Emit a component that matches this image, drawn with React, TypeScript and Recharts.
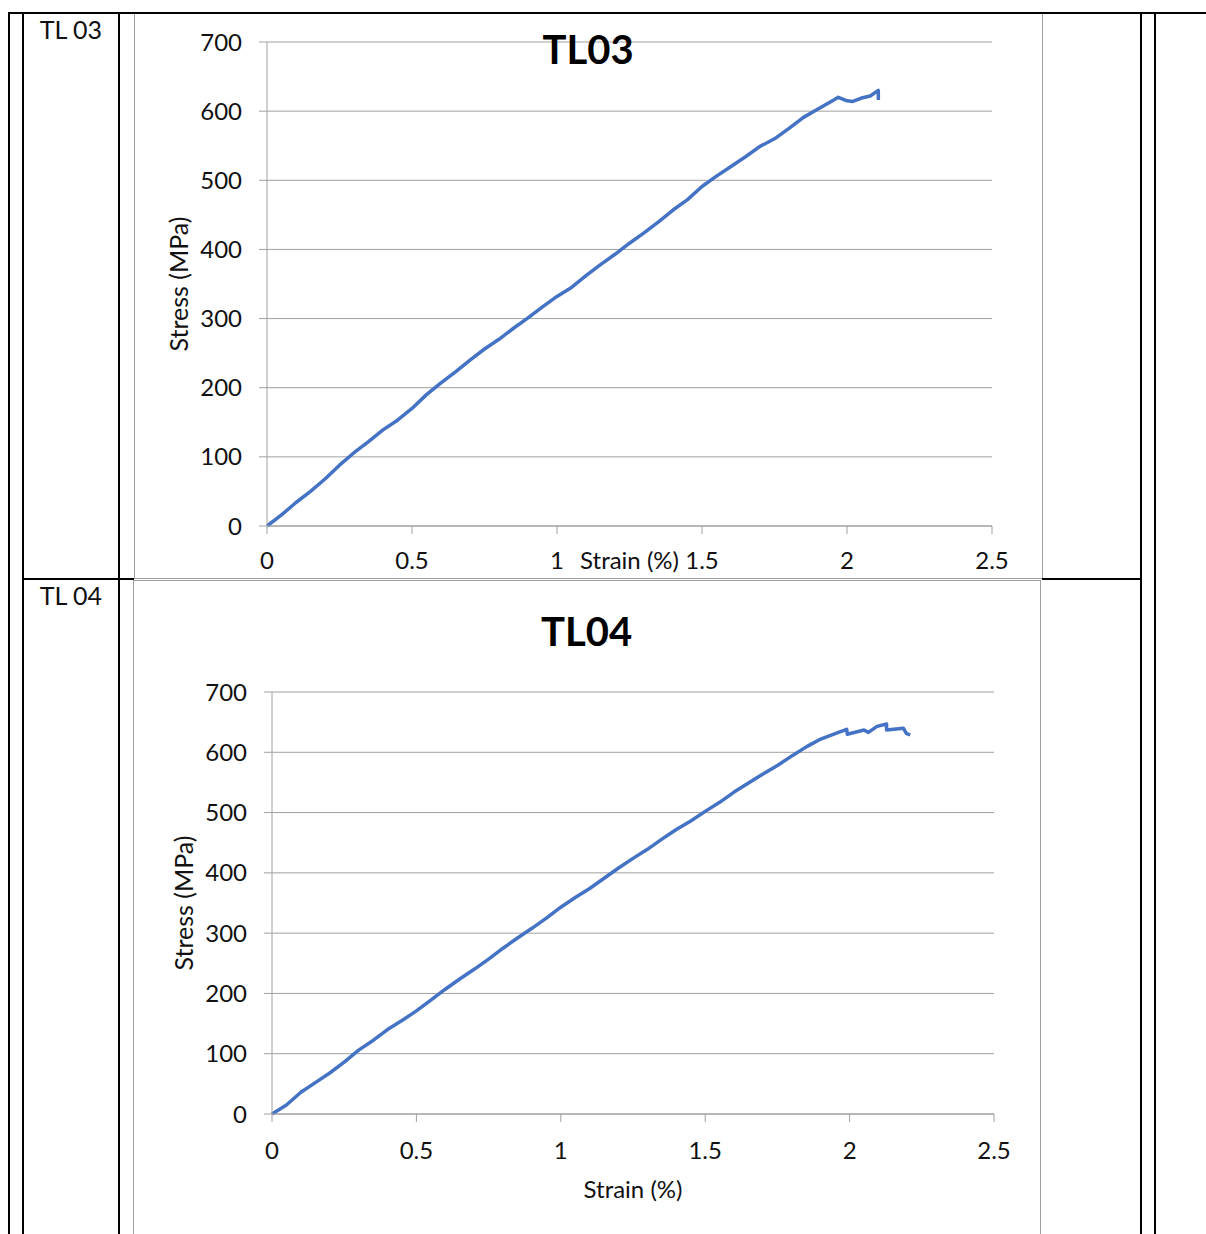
import { LineChart, Line, XAxis, YAxis, CartesianGrid } from "recharts";

const strainTicks = [0, 0.5, 1, 1.5, 2, 2.5];
const stressTicks = [0, 100, 200, 300, 400, 500, 600, 700];

const tl03Strain = [
  0, 0.05, 0.1, 0.15, 0.2, 0.25, 0.3, 0.35, 0.4, 0.45, 0.5, 0.55, 0.6, 0.65, 0.7, 0.75, 0.8, 0.85,
  0.9, 0.95, 1.0, 1.05, 1.1, 1.15, 1.2, 1.25, 1.3, 1.35, 1.4, 1.45, 1.5, 1.55, 1.6, 1.65, 1.7, 1.75,
  1.8, 1.85, 1.9, 1.95, 1.97, 2.0, 2.02, 2.05, 2.08, 2.108, 2.108,
];
const tl03Stress = [
  0, 16, 34, 50, 68, 88, 106, 122, 139, 153, 170, 190, 207, 223, 240, 256, 270, 286,
  301, 317, 332, 345, 362, 378, 393, 409, 424, 440, 457, 472, 491, 506, 520, 534, 549, 560,
  575, 591, 603, 615, 620, 615, 614, 619, 622, 630, 616,
];

const tl04Strain = [
  0, 0.05, 0.1, 0.15, 0.2, 0.25, 0.3, 0.35, 0.4, 0.45, 0.5, 0.55, 0.6, 0.65, 0.7, 0.75, 0.8, 0.85,
  0.9, 0.95, 1.0, 1.05, 1.1, 1.15, 1.2, 1.25, 1.3, 1.35, 1.4, 1.45, 1.5, 1.55, 1.6, 1.65, 1.7, 1.75,
  1.8, 1.85, 1.9, 1.95, 1.99, 1.992, 2.05, 2.065, 2.095, 2.128, 2.128, 2.186, 2.197, 2.21,
];
const tl04Stress = [
  0, 15, 36, 52, 68, 86, 106, 122, 140, 155, 171, 189, 207, 224, 240, 257, 275, 292,
  308, 325, 343, 359, 374, 391, 408, 424, 439, 456, 472, 486, 502, 517, 534, 549, 564, 578,
  594, 609, 622, 631, 638, 630, 637, 633, 643, 647, 637, 640, 631, 629,
];

const FONT = "Lato, 'Open Sans', sans-serif";
const GRID = "#a0a0a0";
const LINE = "#4472c4";
const TEXT = "#111";

const toRows = (strain: number[], stress: number[]) =>
  strain.map((s, i) => ({ strain: s, stress: stress[i] }));

interface PanelProps {
  title: string;
  rows: { strain: number; stress: number }[];
  left: number;
  top: number;
  width: number;
  height: number;
  frameHeight: number;
  margin: { top: number; right: number; bottom: number; left: number };
  yAxisWidth: number;
  xAxisHeight: number;
  xTickMargin: number;
  yTickMargin: number;
  xTitleY: number;
  yTitleX: number;
  titleTop: number;
}

function Panel(p: PanelProps) {
  const tick = { fontFamily: FONT, fontSize: 24, fill: TEXT };
  return (
    <div
      style={{
        position: "absolute",
        left: p.left,
        top: p.top,
        width: p.width,
        height: p.height,
      }}
    >
      <div
        style={{
          position: "absolute",
          left: 0,
          top: 0,
          width: p.width + 1,
          height: p.frameHeight,
          border: `1px solid ${GRID}`,
          boxSizing: "border-box",
        }}
      />
      <div style={{ position: "absolute", left: 0, top: 0 }}>
        <LineChart width={p.width} height={p.height} data={p.rows} margin={p.margin}>
          <CartesianGrid vertical={false} stroke={GRID} strokeWidth={1} />
          <XAxis
            dataKey="strain"
            type="number"
            domain={[0, 2.5]}
            ticks={strainTicks}
            height={p.xAxisHeight}
            stroke={GRID}
            tickSize={8}
            tickMargin={p.xTickMargin}
            tick={tick}
            interval={0}
            label={{
              content: (props: any) => {
                const vb = props.viewBox || {};
                return (
                  <text
                    x={vb.x + vb.width / 2}
                    y={p.xTitleY}
                    textAnchor="middle"
                    dominantBaseline="central"
                    fontFamily={FONT}
                    fontSize={24}
                    fill={TEXT}
                  >
                    Strain (%)
                  </text>
                );
              },
            }}
          />
          <YAxis
            type="number"
            domain={[0, 700]}
            ticks={stressTicks}
            width={p.yAxisWidth}
            stroke={GRID}
            tickSize={8}
            tickMargin={p.yTickMargin}
            tick={tick}
            interval={0}
            label={{
              content: (props: any) => {
                const vb = props.viewBox || {};
                const cy = vb.y + vb.height / 2;
                return (
                  <text
                    x={p.yTitleX}
                    y={cy}
                    textAnchor="middle"
                    dominantBaseline="central"
                    transform={`rotate(-90 ${p.yTitleX} ${cy})`}
                    fontFamily={FONT}
                    fontSize={25}
                    fill={TEXT}
                  >
                    Stress (MPa)
                  </text>
                );
              },
            }}
          />
          <Line
            type="linear"
            dataKey="stress"
            stroke={LINE}
            strokeWidth={3.5}
            strokeLinejoin="round"
            dot={false}
            isAnimationActive={false}
          />
        </LineChart>
      </div>
      <div
        style={{
          position: "absolute",
          left: 0,
          top: p.titleTop,
          width: p.width,
          textAlign: "center",
          fontFamily: FONT,
          fontWeight: 700,
          fontSize: 40,
          lineHeight: "40px",
          color: "#000",
        }}
      >
        {p.title}
      </div>
    </div>
  );
}

function Rule({ x, y, w, h }: { x: number; y: number; w: number; h: number }) {
  return <div style={{ position: "absolute", left: x, top: y, width: w, height: h, background: "#000" }} />;
}

const cellLabel = {
  position: "absolute" as const,
  left: 24,
  width: 94,
  textAlign: "center" as const,
  fontFamily: FONT,
  fontSize: 25,
  lineHeight: "24px",
  color: TEXT,
};

export default function App() {
  return (
    <div
      style={{
        position: "absolute",
        left: 0,
        top: 0,
        width: 1206,
        height: 1234,
        overflow: "hidden",
        background: "#fff",
      }}
    >
      <Panel
        title="TL03"
        rows={toRows(tl03Strain, tl03Stress)}
        left={134}
        top={13}
        width={908}
        height={566}
        frameHeight={566}
        margin={{ top: 29, right: 50, bottom: 22, left: 0 }}
        yAxisWidth={133}
        xAxisHeight={31}
        xTickMargin={18}
        yTickMargin={17}
        xTitleY={546}
        yTitleX={44}
        titleTop={16}
      />
      <Panel
        title="TL04"
        rows={toRows(tl04Strain, tl04Stress)}
        left={133}
        top={580}
        width={907}
        height={654}
        frameHeight={700}
        margin={{ top: 112, right: 46, bottom: 40, left: 0 }}
        yAxisWidth={139}
        xAxisHeight={80}
        xTickMargin={20}
        yTickMargin={17}
        xTitleY={608}
        yTitleX={50}
        titleTop={31}
      />
      <Rule x={8} y={12} w={1198} h={2} />
      <Rule x={8} y={12} w={2} h={1222} />
      <Rule x={22} y={12} w={2} h={1222} />
      <Rule x={118} y={12} w={2} h={1222} />
      <Rule x={1140} y={12} w={2} h={1222} />
      <Rule x={1154} y={12} w={2} h={1222} />
      <Rule x={22} y={578} w={112} h={2} />
      <Rule x={1042} y={578} w={100} h={2} />
      <div style={{ ...cellLabel, top: 17 }}>TL 03</div>
      <div style={{ ...cellLabel, top: 583 }}>TL 04</div>
    </div>
  );
}
